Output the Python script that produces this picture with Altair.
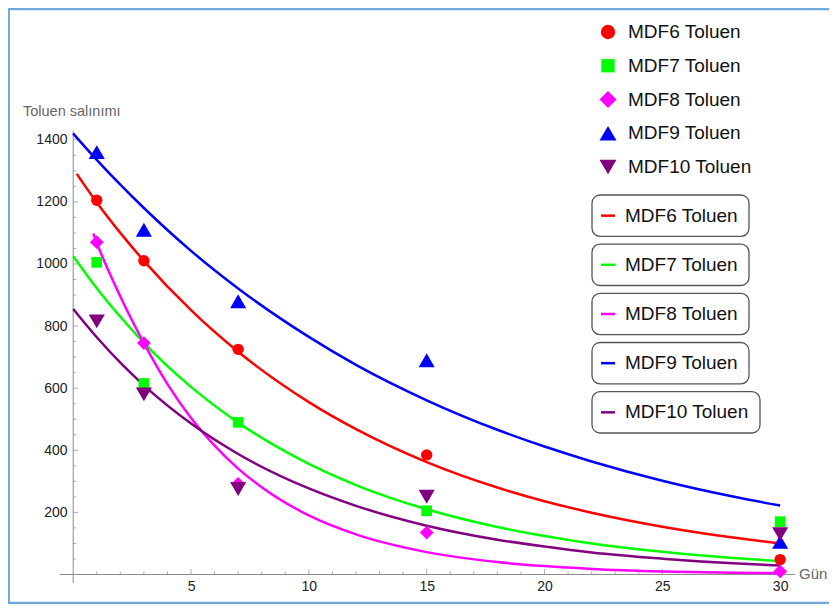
import altair as alt
import pandas as pd

# ---------------- data ----------------
series = ["MDF6 Toluen", "MDF7 Toluen", "MDF8 Toluen", "MDF9 Toluen", "MDF10 Toluen"]
colors = ["#FF0000", "#00FF00", "#FF00FF", "#0000FF", "#800080"]
shapes = ["circle", "square", "diamond", "triangle-up", "triangle-down"]
plot_sizes = [130, 115, 190, 260, 260]
legend_sizes = [205, 177, 290, 290, 290]

days = [1, 3, 7, 15, 30]
mdf6 = [1205, 1010, 725, 385, 48]
mdf7 = [1005, 615, 490, 205, 170]
mdf8 = [1070, 745, 292, 135, 10]
mdf9 = [1360, 1110, 880, 690, 105]
mdf10 = [815, 580, 275, 250, 130]

# fitted curves, values
fit6_x = [0.15, 1, 2, 3, 5, 7, 10, 12, 15, 18, 20, 22, 25, 28, 30]
fit6_y = [1290, 1198, 1100, 1010, 851, 717, 555, 468, 362, 280, 236, 199, 154, 119, 100]
fit7_x = [0, 1, 2, 3, 5, 7, 10, 12, 15, 18, 20, 22, 25, 28, 30]
fit7_y = [1025, 922, 830, 746, 604, 489, 356, 288, 210, 153, 124, 100, 73, 53, 43]
fit8_x = [0.85, 1, 2, 3, 4, 5, 6, 7, 8, 10, 12, 15, 18, 20, 22, 25, 28, 30]
fit8_y = [1098, 1068, 895, 745, 613, 504, 415, 341, 281, 190, 129, 72, 40, 27, 18, 10, 6, 4]
fit9_x = [0, 1, 2, 3, 5, 7, 10, 12, 15, 18, 20, 22, 25, 28, 30]
fit9_y = [1420, 1335, 1255, 1180, 1042, 921, 765, 675, 561, 466, 412, 364, 302, 251, 222]
fit10_x = [0, 1, 2, 3, 5, 7, 10, 12, 15, 18, 20, 22, 25, 28, 30]
fit10_y = [855, 764, 682, 609, 486, 388, 277, 221, 157, 112, 90, 71, 51, 36, 29]

x_labels = [5, 10, 15, 20, 25, 30]
y_labels = [200, 400, 600, 800, 1000, 1200, 1400]
x_minor = [1, 2, 3, 4, 6, 7, 8, 9, 11, 12, 13, 14, 16, 17, 18, 19, 21, 22, 23, 24, 26, 27, 28, 29]
y_minor = [50, 100, 150, 250, 300, 350, 450, 500, 550, 650, 700, 750, 850, 900, 950,
           1050, 1100, 1150, 1250, 1300, 1350]

x_title = "Gün"
y_title = "Toluen salınımı"

# ---------------- tables ----------------
pts = pd.DataFrame(
    [(d, v, s) for s, vals in zip(series, [mdf6, mdf7, mdf8, mdf9, mdf10]) for d, v in zip(days, vals)],
    columns=["day", "value", "series"],
)
fits = pd.DataFrame(
    [(x, y, s) for s, xs_, ys_ in zip(
        series,
        [fit6_x, fit7_x, fit8_x, fit9_x, fit10_x],
        [fit6_y, fit7_y, fit8_y, fit9_y, fit10_y])
     for x, y in zip(xs_, ys_)],
    columns=["day", "value", "series"],
)
xt_major = pd.DataFrame({"t": x_labels, "y": 0})
xt_minor = pd.DataFrame({"t": x_minor, "y": 0})
yt_major = pd.DataFrame({"t": y_labels, "x": 0})
yt_minor = pd.DataFrame({"t": y_minor, "x": 0})
leg = pd.DataFrame({"series": series})

FONT = "Liberation Sans"
AXIS_GRAY = "#8c8c8c"

xs = alt.Scale(domain=[-0.56, 30.63], nice=False, zero=False)
ys = alt.Scale(domain=[-27.4, 1428], nice=False, zero=False)
cscale = alt.Scale(domain=series, range=colors)
sscale = alt.Scale(domain=series, range=shapes)

xaxis = alt.Axis(values=x_labels, title=None, domain=False, ticks=False, grid=False,
                 offset=-8, labelPadding=4, labelFontSize=14, labelColor="#222",
                 labelFont=FONT, labelFlush=False, format="d")
yaxis = alt.Axis(values=y_labels, title=None, domain=False, ticks=False, grid=False,
                 offset=-13, labelPadding=6, labelFontSize=14, labelColor="#222",
                 labelFont=FONT, format="d")

X = lambda f: alt.X(f, scale=xs, axis=xaxis)
Y = lambda f: alt.Y(f, scale=ys, axis=yaxis)
C = alt.Color("series:N", scale=cscale, legend=None)
S = alt.Shape("series:N", scale=sscale, legend=None)

x_line = alt.Chart(pd.DataFrame({"y": [0]})).mark_rule(color=AXIS_GRAY, strokeWidth=1).encode(y=Y("y:Q"))
y_line = alt.Chart(pd.DataFrame({"x": [0]})).mark_rule(color=AXIS_GRAY, strokeWidth=1).encode(x=X("x:Q"))
xtM = alt.Chart(xt_major).mark_tick(orient="vertical", size=5.5, thickness=1, yOffset=-2.75,
                                   color=AXIS_GRAY).encode(x=X("t:Q"), y=Y("y:Q"))
xtm = alt.Chart(xt_minor).mark_tick(orient="vertical", size=3, thickness=1, yOffset=-1.5,
                                   color=AXIS_GRAY).encode(x=X("t:Q"), y=Y("y:Q"))
ytM = alt.Chart(yt_major).mark_tick(orient="horizontal", size=5, thickness=1, xOffset=2.5,
                                   color=AXIS_GRAY).encode(y=Y("t:Q"), x=X("x:Q"))
ytm = alt.Chart(yt_minor).mark_tick(orient="horizontal", size=3, thickness=1, xOffset=1.5,
                                   color=AXIS_GRAY).encode(y=Y("t:Q"), x=X("x:Q"))

lines = alt.Chart(fits).mark_line(strokeWidth=2.5, interpolate="monotone").encode(
    x=X("day:Q"), y=Y("value:Q"), color=C)

point_layers = [
    alt.Chart(pts).transform_filter(alt.datum.series == s).mark_point(
        filled=True, opacity=1, size=sz).encode(x=X("day:Q"), y=Y("value:Q"), color=C, shape=S)
    for s, sz in zip(series, plot_sizes)
]
main = alt.layer(x_line, y_line, xtm, xtM, ytm, ytM, lines, *point_layers)

# symbol legend
sym_y = alt.Y("series:N", scale=alt.Scale(type="point", domain=series, range=[-99, 36], padding=0), axis=None)
sym_pts = [
    alt.Chart(leg).transform_filter(alt.datum.series == s).mark_point(
        filled=True, opacity=1, size=sz).encode(x=alt.value(548), y=sym_y, color=C, shape=S)
    for s, sz in zip(series, legend_sizes)
]
sym_txt = alt.Chart(leg).mark_text(align="left", baseline="middle", fontSize=19, font=FONT,
                                   color="#111").encode(x=alt.value(568), y=sym_y, text="series:N")
sym_legend = alt.layer(*sym_pts, sym_txt)

# boxed line legend
band = alt.Scale(type="band", domain=series, range=[64, 302], paddingInner=0.16, paddingOuter=0)
by = alt.Y("series:N", scale=band, axis=None)
byc = alt.Y("series:N", scale=band, axis=None, bandPosition=0.5)
box = alt.Chart(leg).mark_rect(cornerRadius=8, fill="white", stroke="#555", strokeWidth=1.3).encode(
    x=alt.value(532), x2=alt.value(689), y=by).transform_filter(alt.datum.series != "MDF10 Toluen")
box10 = alt.Chart(leg).mark_rect(cornerRadius=8, fill="white", stroke="#555", strokeWidth=1.3).encode(
    x=alt.value(532), x2=alt.value(700), y=by).transform_filter(alt.datum.series == "MDF10 Toluen")
seg = alt.Chart(leg).mark_rule(strokeWidth=2.5).encode(
    x=alt.value(541), x2=alt.value(555), y=byc, color=C)
seg_txt = alt.Chart(leg).mark_text(align="left", baseline="middle", fontSize=19, font=FONT,
                                   color="#111").encode(x=alt.value(565), y=byc, text="series:N")
line_legend = alt.layer(box, box10, seg, seg_txt)

# titles and frame
ttl = pd.DataFrame({"t": [y_title]})
ytitle = alt.Chart(ttl).mark_text(align="left", baseline="middle", fontSize=14.5, font=FONT,
                                  color="#666").encode(x=alt.value(-37), y=alt.value(-19), text="t:N")
xttl = pd.DataFrame({"t": [x_title]})
xtitle = alt.Chart(xttl).mark_text(align="left", baseline="middle", fontSize=15, font=FONT,
                                   color="#666").encode(x=alt.value(739), y=alt.value(443), text="t:N")
frame = alt.Chart(pd.DataFrame({"a": [0]})).mark_rect(fillOpacity=0, stroke="#6FA8DC", strokeWidth=2.5).encode(
    x=alt.value(-51.3), x2=alt.value(800), y=alt.value(-122), y2=alt.value(472))

chart = alt.layer(frame, main, sym_legend, line_legend, ytitle, xtitle).resolve_scale(
    y="independent"
).properties(
    width=735, height=452,
    padding={"left": 52, "top": 123, "right": 34, "bottom": 21},
    autosize=alt.AutoSizeParams(type="none"),
).configure(font=FONT, view=alt.ViewConfig(stroke=None))

chart.save("out.html", embed_options={"renderer": "svg", "actions": False})
